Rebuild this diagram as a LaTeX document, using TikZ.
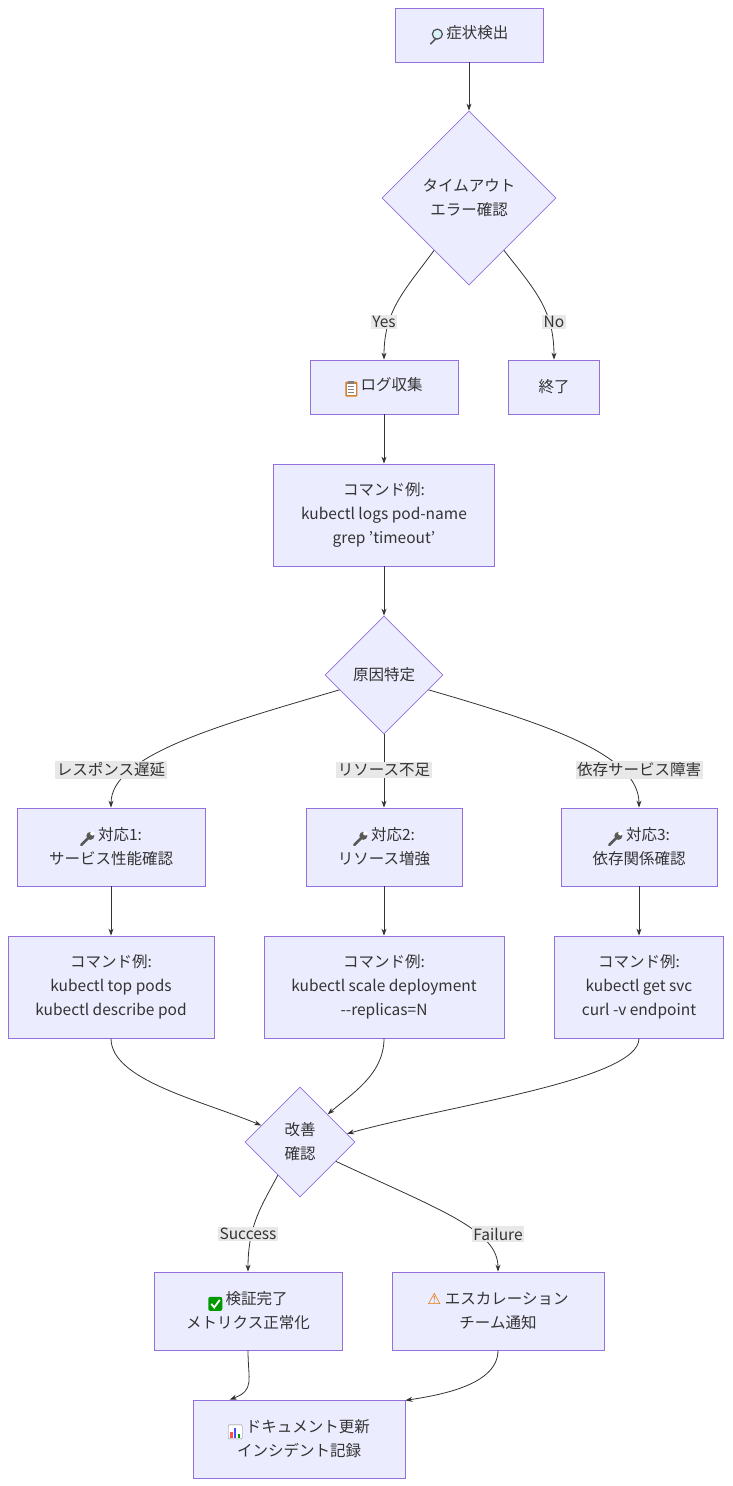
\documentclass[tikz,border=0pt]{standalone}
\usepackage{fontspec}
\setmainfont{Noto Sans CJK JP}
\newfontfamily\emo{DejaVu Sans}
\usetikzlibrary{shapes.geometric,arrows.meta,calc}
\definecolor{nfill}{HTML}{ECECFF}
\definecolor{nline}{HTML}{9370DB}
\definecolor{edge}{HTML}{333333}
\definecolor{lbl}{HTML}{E8E8E8}
\newcommand{\icmag}{\tikz[baseline=-2pt,x=1pt,y=1pt]{\draw[line width=1.6pt,draw=gray!70!black] (2,-2)--(-4,-8);\draw[line width=1.2pt,draw=gray!60!black,fill=cyan!15] (3,2) circle (5);}}
\newcommand{\icclip}{\tikz[baseline=-2pt,x=1pt,y=1pt]{\fill[brown!70!orange,rounded corners=1pt] (-6,-8) rectangle (6,7);\fill[white] (-4.5,-6.5) rectangle (4.5,5);\fill[gray] (-3,5) rectangle (3,8);\foreach\y in {2,-1,-4}\draw[gray,line width=0.6pt] (-3,\y)--(3,\y);}}
\newcommand{\icwrench}{\tikz[baseline=-2pt,x=1pt,y=1pt]{\draw[line width=2.6pt,gray!70!black,line cap=round] (-5,-6)--(3,2);\fill[gray!70!black] (4,3) circle (4);\fill[white] (6,5.5) circle (2.2);}}
\newcommand{\iccheck}{\tikz[baseline=-2pt,x=1pt,y=1pt]{\fill[green!60!black,rounded corners=2pt] (-7,-8) rectangle (7,6);\draw[white,line width=1.8pt] (-4,-1)--(-1,-4.5)--(4.5,3);}}
\newcommand{\icchart}{\tikz[baseline=-2pt,x=1pt,y=1pt]{\draw[gray,fill=white,rounded corners=1pt] (-7,-8) rectangle (7,6);\fill[red!70] (-5,-7) rectangle (-2.5,-1);\fill[blue!70] (-1.2,-7) rectangle (1.2,3);\fill[green!60!black] (2.5,-7) rectangle (5,-3);}}
\begin{document}
\begin{tikzpicture}[x=1pt,y=-1pt,
  every node/.style={font=\fontsize{15.5}{24}\selectfont,text=edge},
  box/.style={draw=nline,fill=nfill,line width=0.8pt,align=center,inner sep=0},
  dia/.style={diamond,draw=nline,fill=nfill,line width=0.8pt,align=center,inner sep=0},
  lab/.style={fill=lbl,inner sep=1.5pt},
  arr/.style={draw=edge,line width=0.8pt,-{Stealth[length=7pt,width=5pt]}}]
\useasboundingbox (0,0) rectangle (732,1486);
\node[box,minimum width=148,minimum height=54] (A) at (469,35) {\icmag\ 症状検出};
\node[dia,minimum width=174,minimum height=174] (B) at (469,198) {タイムアウト\\エラー確認};
\node[box,minimum width=148,minimum height=54] (C) at (384,387) {\icclip\ ログ収集};
\node[box,minimum width=91,minimum height=54] (D) at (554,387) {終了};
\node[box,minimum width=221,minimum height=102] (E) at (384,515) {コマンド例:\\kubectl logs pod-name\\grep {\char39}timeout{\char39}};
\node[dia,minimum width=118,minimum height=118] (F) at (384,675) {原因特定};
\node[box,minimum width=188,minimum height=78] (G1) at (111,847) {\icwrench\ 対応1:\\サービス性能確認};
\node[box,minimum width=156,minimum height=78] (G2) at (384,847) {\icwrench\ 対応2:\\リソース増強};
\node[box,minimum width=156,minimum height=78] (G3) at (639,847) {\icwrench\ 対応3:\\依存関係確認};
\node[box,minimum width=206,minimum height=102] (H1) at (111,987) {コマンド例:\\kubectl top pods\\kubectl describe pod};
\node[box,minimum width=240,minimum height=102] (H2) at (384,987) {コマンド例:\\kubectl scale deployment\\-{}-replicas=N};
\node[box,minimum width=169,minimum height=102] (H3) at (639,987) {コマンド例:\\kubectl get svc\\curl -v endpoint};
\node[dia,minimum width=110,minimum height=110] (I) at (300,1142) {改善\\確認};
\node[box,minimum width=188,minimum height=78] (J1) at (248,1311) {\iccheck\ 検証完了\\メトリクス正常化};
\node[box,minimum width=212,minimum height=78] (J2) at (498,1311) {{\emo\color{orange!90!black}⚠} エスカレーション\\チーム通知};
\node[box,minimum width=212,minimum height=78] (K) at (299,1439) {\icchart\ ドキュメント更新\\インシデント記録};
% edges
\draw[arr] (A) -- (B);
\draw[arr] ($(B.west)!0.6!(B.south)$) .. controls (405,290) and (384,310) .. (C.north);
\draw[arr] ($(B.east)!0.6!(B.south)$) .. controls (535,290) and (554,310) .. (D.north);
\draw[arr] (C) -- (E);
\draw[arr] (E) -- (F);
\draw[arr] ($(F.west)!0.25!(F.south)$) .. controls (220,725) and (111,755) .. (G1.north);
\draw[arr] (F) -- (G2);
\draw[arr] ($(F.east)!0.25!(F.south)$) .. controls (550,725) and (639,755) .. (G3.north);
\draw[arr] (G1) -- (H1);
\draw[arr] (G2) -- (H2);
\draw[arr] (G3) -- (H3);
\draw[arr] (H1.south) .. controls (111,1080) and (200,1100) .. ($(I.west)!0.3!(I.north)$);
\draw[arr] (H2.south) .. controls (384,1075) and (350,1095) .. ($(I.east)!0.5!(I.north)$);
\draw[arr] (H3.south) .. controls (639,1080) and (450,1105) .. ($(I.east)!0.15!(I.north)$);
\draw[arr] ($(I.west)!0.6!(I.south)$) .. controls (262,1205) and (248,1225) .. (J1.north);
\draw[arr] ($(I.east)!0.35!(I.south)$) .. controls (440,1210) and (498,1230) .. (J2.north);
\draw[arr] (J1.south) .. controls (248,1380) and (255,1390) .. ($(K.north west)!0.35!(K.north)$);
\draw[arr] (J2.south) .. controls (498,1385) and (440,1395) .. ($(K.north east)!0.02!(K.east)$);
% labels
\node[lab] (l1) at (384,322) {Yes};
\node[lab] (l2) at (554,322) {No};
\node[lab] (l3) at (111,770) {レスポンス遅延};
\node[lab] (l4) at (384,770) {リソース不足};
\node[lab] (l5) at (639,770) {依存サービス障害};
\node[lab] (l6) at (248,1234) {Success};
\node[lab] (l7) at (498,1234) {Failure};
\end{tikzpicture}
\end{document}
